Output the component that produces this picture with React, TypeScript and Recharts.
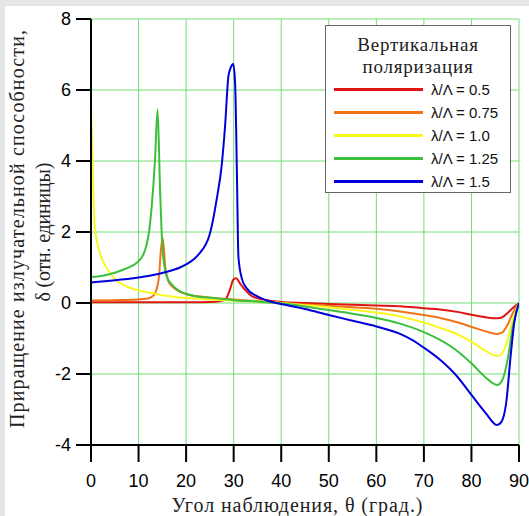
import React from "react";
import { LineChart, Line, XAxis, YAxis, CartesianGrid, Legend } from "recharts";

// angle of observation (deg) and emissivity increment for each lambda/Lambda
const theta05 = [0, 5, 10, 15, 20, 25, 27, 28, 28.5, 29.2, 29.9, 30.5, 31.3, 32.4, 34, 37, 40, 45, 50, 55, 60, 65, 70, 73.4, 77, 80, 83, 85.4, 86.5, 87.6, 88.7, 90];
const delta05 = [0.02, 0.02, 0.02, 0.02, 0.02, 0.03, 0.05, 0.08, 0.14, 0.37, 0.65, 0.7, 0.56, 0.37, 0.18, 0.08, 0.03, 0, -0.03, -0.05, -0.07, -0.09, -0.15, -0.18, -0.25, -0.33, -0.4, -0.43, -0.4, -0.28, -0.14, 0];

const theta075 = [0, 5, 10, 11.7, 13, 13.5, 14, 14.3, 14.7, 15.07, 15.4, 15.6, 16, 16.3, 17, 18, 19, 20.8, 23, 25.7, 30, 35, 40, 45, 50, 55, 60, 65, 70, 73.4, 77, 80, 83, 85.4, 86.5, 87.6, 88.7, 90];
const delta075 = [0.07, 0.08, 0.1, 0.12, 0.2, 0.28, 0.5, 0.74, 1.5, 1.83, 1.4, 1.02, 0.75, 0.6, 0.48, 0.37, 0.3, 0.22, 0.18, 0.14, 0.1, 0.05, 0, -0.04, -0.08, -0.12, -0.16, -0.24, -0.34, -0.42, -0.54, -0.67, -0.8, -0.87, -0.83, -0.61, -0.28, 0];

const theta10 = [0, 0.3, 0.8, 1.9, 3, 4, 5.5, 7.8, 10, 12.8, 15, 17.7, 20, 25, 30, 35, 40, 45, 50, 55, 60, 65, 70, 73.4, 77, 80, 83, 85.4, 86.5, 87.6, 88.7, 90];
const delta10 = [5.58, 4.05, 2.15, 1.4, 1.05, 0.85, 0.62, 0.45, 0.35, 0.28, 0.22, 0.17, 0.14, 0.1, 0.07, 0.04, 0, -0.06, -0.12, -0.19, -0.27, -0.38, -0.55, -0.7, -0.88, -1.09, -1.35, -1.49, -1.41, -1.03, -0.47, 0];

const theta125 = [0, 2.5, 5, 7, 8.2, 9.3, 10.3, 11, 11.6, 12.2, 12.75, 13.45, 14, 14.5, 15, 15.5, 16, 17, 18.7, 20, 22, 25.7, 30, 35, 40, 45, 50, 55, 60, 65, 70, 73.4, 77, 80, 83, 85.4, 86.5, 87.6, 88.7, 90];
const delta125 = [0.73, 0.77, 0.85, 0.95, 1.02, 1.1, 1.22, 1.36, 1.6, 2.0, 2.7, 4.0, 5.45, 3.3, 1.6, 1.0, 0.72, 0.52, 0.33, 0.26, 0.19, 0.14, 0.08, 0.04, -0.01, -0.1, -0.2, -0.3, -0.42, -0.58, -0.82, -1.04, -1.35, -1.7, -2.1, -2.31, -2.17, -1.6, -0.66, 0];

const theta15 = [0, 5, 10, 12, 16, 18.7, 20.8, 22.5, 25, 26.4, 27.5, 28.2, 28.9, 29.3, 29.9, 30.3, 30.7, 31, 31.7, 32.7, 34.8, 37, 40, 45, 50, 55, 60, 65, 67.5, 70, 73.4, 77, 80, 83, 85.4, 86.3, 87.3, 88.3, 89, 90];
const delta15 = [0.58, 0.64, 0.72, 0.76, 0.88, 1.0, 1.15, 1.35, 1.95, 2.9, 3.9, 5.0, 6.4, 6.6, 6.73, 6.2, 3.5, 1.3, 0.7, 0.42, 0.2, 0.07, -0.03, -0.17, -0.34, -0.5, -0.66, -0.87, -1.04, -1.26, -1.6, -2.07, -2.59, -3.1, -3.44, -3.35, -2.82, -1.41, -0.56, 0];

const xTicks = [0, 10, 20, 30, 40, 50, 60, 70, 80, 90];
const yTicks = [-4, -2, 0, 2, 4, 6, 8];

const toPoints = (t: number[], d: number[]) => t.map((x, i) => ({ t: x, d: d[i] }));

const series = [
  { name: "λ/Λ = 0.5", color: "#e01414", data: toPoints(theta05, delta05) },
  { name: "λ/Λ = 0.75", color: "#f07318", data: toPoints(theta075, delta075) },
  { name: "λ/Λ = 1.0", color: "#f8f820", data: toPoints(theta10, delta10) },
  { name: "λ/Λ = 1.25", color: "#3cbf3c", data: toPoints(theta125, delta125) },
  { name: "λ/Λ = 1.5", color: "#0000dc", data: toPoints(theta15, delta15) },
];

const serif = "'Liberation Serif', 'Times New Roman', serif";
const sans = "'Liberation Sans', Arial, sans-serif";

function LegendBox() {
  return (
    <div
      style={{
        position: "relative",
        width: 186,
        height: 168,
        boxSizing: "border-box",
        border: "1px solid #666",
        background: "#fff",
      }}
    >
      <div
        style={{
          position: "absolute",
          left: 0,
          right: 0,
          top: 8,
          textAlign: "center",
          fontFamily: serif,
          fontSize: 19,
          letterSpacing: 0.8,
          lineHeight: "22px",
          color: "#222",
        }}
      >
        Вертикальная
        <br />
        поляризация
      </div>
      {series.map((s, i) => (
        <div
          key={s.name}
          style={{ position: "absolute", left: 8, top: 52 + i * 23, height: 22, display: "flex", alignItems: "center" }}
        >
          <div style={{ width: 89, height: 3, background: s.color }} />
          <span style={{ marginLeft: 8, fontFamily: sans, fontSize: 15, color: "#111" }}>{s.name}</span>
        </div>
      ))}
    </div>
  );
}

export default function App() {
  return (
    <div style={{ position: "absolute", left: 0, top: 0, width: 529, height: 516, background: "#fff", overflow: "hidden" }}>
      <div style={{ position: "absolute", left: 0, top: 0, width: 529, height: 6, background: "#e6e6e6" }} />
      <div style={{ position: "absolute", left: 0, top: 0, width: 5, height: 516, background: "#e6e6e6" }} />
      <LineChart width={529} height={516} margin={{ top: 19, right: 10, bottom: 0, left: 0 }}>
        <CartesianGrid stroke="#74dd74" strokeWidth={1} />
        <XAxis
          dataKey="t"
          type="number"
          domain={[0, 90]}
          ticks={xTicks}
          height={71}
          tickSize={17}
          tickMargin={12}
          axisLine={{ stroke: "#000", strokeWidth: 2 }}
          tickLine={{ stroke: "#000", strokeWidth: 2 }}
          tick={{ fill: "#000", fontSize: 18, fontFamily: sans }}
          allowDataOverflow
        />
        <YAxis
          type="number"
          domain={[-4, 8]}
          ticks={yTicks}
          width={91}
          tickSize={15}
          tickMargin={5}
          axisLine={{ stroke: "#000", strokeWidth: 2 }}
          tickLine={{ stroke: "#000", strokeWidth: 2 }}
          tick={{ fill: "#000", fontSize: 18, fontFamily: sans }}
          allowDataOverflow
        />
        {series.map((s) => (
          <Line
            key={s.name}
            data={s.data}
            dataKey="d"
            name={s.name}
            type="monotone"
            stroke={s.color}
            strokeWidth={2}
            dot={false}
            activeDot={false}
            isAnimationActive={false}
          />
        ))}
        <Legend
          layout="vertical"
          align="center"
          verticalAlign="middle"
          content={() => <LegendBox />}
          wrapperStyle={{ left: 325, top: 25, width: 186, height: 168 }}
        />
      </LineChart>
      <svg
        width={529}
        height={516}
        style={{ position: "absolute", left: 0, top: 0, pointerEvents: "none" }}
      >
        <text
          x={297}
          y={512}
          textAnchor="middle"
          fontFamily={serif}
          fontSize={20}
          textLength={251}
          lengthAdjust="spacing"
          fill="#222"
        >
          Угол наблюдения, θ (град.)
        </text>
        <text
          transform="translate(24,229) rotate(-90)"
          textAnchor="middle"
          fontFamily={serif}
          fontSize={20}
          textLength={398}
          lengthAdjust="spacing"
          fill="#222"
        >
          Приращение излучательной способности,
        </text>
        <text
          transform="translate(50,232) rotate(-90)"
          textAnchor="middle"
          fontFamily={serif}
          fontSize={20}
          textLength={139}
          lengthAdjust="spacing"
          fill="#222"
        >
          δ (отн. единицы)
        </text>
      </svg>
    </div>
  );
}
